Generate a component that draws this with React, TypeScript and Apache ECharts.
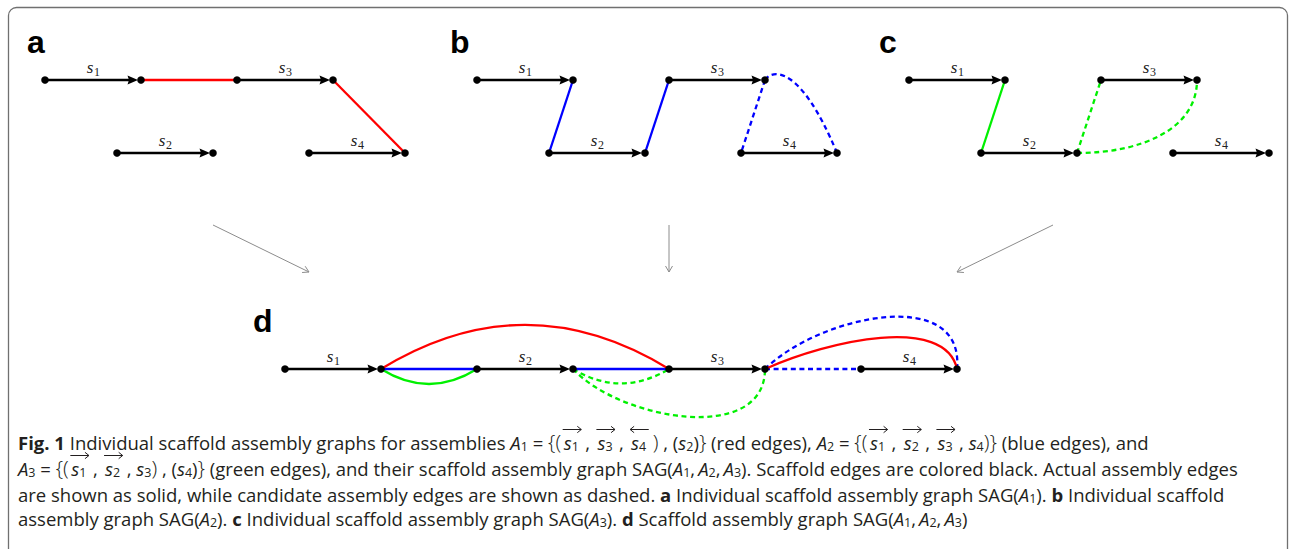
import React, { useEffect, useRef } from "react";
import * as echarts from "echarts";

// ---------------- data ----------------
const scaffoldSubscripts = ["1", "2", "3", "4"];
const scaffoldLength = 4;
// individual graphs (a, b, c): start position (x units) and row (y units) of each scaffold
const individualStartX = [0, 3, 8, 11];
const individualRowY = [3, 0, 3, 0];
// combined graph (d)
const combinedStartX = [0, 8, 16, 24];
const combinedRowY = [0, 0, 0, 0];

const assemblyNames = ["A1", "A2", "A3"];
// edges: [assembly, from scaffold, from end (s = start, e = end), to scaffold, to end, candidate]
const edges: [number, number, string, number, string, boolean][] = [
  [0, 0, "e", 2, "s", false],
  [0, 2, "e", 3, "e", false],
  [1, 0, "e", 1, "s", false],
  [1, 1, "e", 2, "s", false],
  [1, 2, "e", 3, "s", true],
  [1, 2, "e", 3, "e", true],
  [2, 0, "e", 1, "s", false],
  [2, 1, "e", 2, "s", true],
  [2, 1, "e", 2, "e", true],
];
// bezier control points [c1x, c1y, c2x, c2y] (panel units) of edges drawn as curves, by edge index
const individualCurves: Record<number, number[]> = {
  5: [12.29, 3.45, 13.46, 3.66],
  8: [9.63, 0, 12, 0.95],
};
const combinedCurves: Record<number, number[]> = {
  0: [8, 2.45, 12, 2.45],
  1: [22.7, 1.21, 27.5, 2.25],
  5: [22.3, 2.25, 28.33, 3.5],
  6: [5.33, -0.83, 6.67, -0.83],
  7: [13.33, -0.8, 14.67, -0.8],
  8: [13.96, -2.12, 20, -3.17],
};

const captionLines = [
  "[b:Fig. 1] Individual scaffold assembly graphs for assemblies [i:A][_:1] = [B:{(][>:1], [>:3], [<:4][B:)] , ([m:s][_:2])[B:}] (red edges), [i:A][_:2] = [B:{(][>:1], [>:2], [>:3], [m:s][_:4][B:)}] (blue edges), and",
  "[i:A][_:3] = [B:{(][>:1], [>:2], [m:s][_:3][B:)] , ([m:s][_:4])[B:}] (green edges), and their scaffold assembly graph SAG([i:A][_:1],\u2009[i:A][_:2],\u2009[i:A][_:3]). Scaffold edges are colored black. Actual assembly edges",
  "are shown as solid, while candidate assembly edges are shown as dashed. [b:a] Individual scaffold assembly graph SAG([i:A][_:1]). [b:b] Individual scaffold",
  "assembly graph SAG([i:A][_:2]). [b:c] Individual scaffold assembly graph SAG([i:A][_:3]). [b:d] Scaffold assembly graph SAG([i:A][_:1],\u2009[i:A][_:2],\u2009[i:A][_:3])",
];

// ---------------- layout / style ----------------
const assemblyColors = ["#ff0000", "#0000ff", "#00f000"];
const panels = [
  { letter: "a", assembly: 0, left: 45, top: 80, width: 360, height: 73, xMax: 15, yMin: 0, yMax: 3, lx: 27, ly: 42 },
  { letter: "b", assembly: 1, left: 477, top: 80, width: 360, height: 73, xMax: 15, yMin: 0, yMax: 3, lx: 450, ly: 42 },
  { letter: "c", assembly: 2, left: 909, top: 80, width: 360, height: 73, xMax: 15, yMin: 0, yMax: 3, lx: 879, ly: 42 },
  { letter: "d", assembly: -1, left: 285, top: 321, width: 672, height: 96, xMax: 28, yMin: -2, yMax: 2, lx: 253, ly: 321 },
];
const links = [
  [213, 225, 309, 272],
  [669, 225, 669, 272],
  [1053, 225, 957, 272],
];
const CAP_SIZE = 18.5;
const CAP_FAMILY = "'Open Sans'";
const CAP_COLOR = "#231f20";
const capFonts: Record<string, string> = {
  r: `400 ${CAP_SIZE}px ${CAP_FAMILY}`,
  b: `700 ${CAP_SIZE}px ${CAP_FAMILY}`,
  i: `italic 400 ${CAP_SIZE}px ${CAP_FAMILY}`,
  m: `italic 400 ${CAP_SIZE}px ${CAP_FAMILY}`,
  _: `400 12.5px ${CAP_FAMILY}`,
  B: `300 21px ${CAP_FAMILY}`,
};
const capDy: Record<string, number> = { r: 0, b: 0, i: 0, m: 0, _: 4.3, B: -0.5 };
const captionLineY = [442, 468, 494, 518];

function renderEdge(params: any, api: any) {
  const a = api.coord([api.value(0), api.value(1)]);
  const b = api.coord([api.value(2), api.value(3)]);
  const style: any = {
    stroke: assemblyColors[api.value(9)],
    lineWidth: 2.3,
    fill: "none",
    lineDash: api.value(10) ? [5, 3.6] : null,
  };
  if (api.value(4)) {
    const c1 = api.coord([api.value(5), api.value(6)]);
    const c2 = api.coord([api.value(7), api.value(8)]);
    return {
      type: "bezierCurve",
      shape: { x1: a[0], y1: a[1], x2: b[0], y2: b[1], cpx1: c1[0], cpy1: c1[1], cpx2: c2[0], cpy2: c2[1] },
      style,
    };
  }
  return { type: "line", shape: { x1: a[0], y1: a[1], x2: b[0], y2: b[1] }, style };
}

function renderScaffold(params: any, api: any) {
  const a = api.coord([api.value(0), api.value(1)]);
  const b = api.coord([api.value(2), api.value(3)]);
  const sub = scaffoldSubscripts[api.value(4)];
  const y = a[1];
  const tip = b[0] - 3;
  const base = b[0] - 13.5;
  const mid = (a[0] + b[0]) / 2;
  return {
    type: "group",
    children: [
      { type: "line", shape: { x1: a[0], y1: y, x2: base + 2, y2: y }, style: { stroke: "#000", lineWidth: 2.3 } },
      {
        type: "polygon",
        shape: { points: [[tip, y], [base, y - 4.6], [base + 1.5, y], [base, y + 4.6]] },
        style: { fill: "#000" },
      },
      { type: "circle", shape: { cx: a[0], cy: y, r: 3.8 }, style: { fill: "#000" } },
      { type: "circle", shape: { cx: b[0], cy: y, r: 3.8 }, style: { fill: "#000" } },
      {
        type: "text",
        x: mid - 3,
        y: y - 12.7,
        style: { text: "s", font: "italic 400 17px 'Liberation Serif'", fill: "#222", align: "center", verticalAlign: "middle" },
      },
      {
        type: "text",
        x: mid + 4,
        y: y - 8,
        style: { text: sub, font: "400 12px 'Liberation Serif'", fill: "#222", align: "center", verticalAlign: "middle" },
      },
    ],
  };
}

function buildCaption(): any[] {
  const ctx = document.createElement("canvas").getContext("2d") as CanvasRenderingContext2D;
  const measure = (t: string, f: string) => {
    ctx.font = f;
    return ctx.measureText(t).width;
  };
  const els: any[] = [];
  const text = (x: number, y: number, t: string, font: string) =>
    els.push({
      type: "text",
      x,
      y,
      silent: true,
      style: { text: t, font, fill: CAP_COLOR, align: "left", verticalAlign: "middle" },
    });
  captionLines.forEach((line, li) => {
    let x = 18;
    const y = captionLineY[li];
    const re = /\[([a-zA-Z_<>]):([^\]]*)\]/g;
    let last = 0;
    let m: RegExpExecArray | null;
    const plain = (t: string) => {
      if (!t) return;
      text(x, y, t, capFonts.r);
      x += measure(t, capFonts.r);
    };
    while ((m = re.exec(line))) {
      plain(line.slice(last, m.index));
      last = re.lastIndex;
      const k = m[1];
      const t = m[2];
      if (k === ">" || k === "<") {
        x += 2.5;
        const x0 = x;
        text(x, y, "s", capFonts.m);
        x += measure("s", capFonts.m);
        text(x, y + capDy._, t, capFonts._);
        x += measure(t, capFonts._);
        // vector arrow above the symbol
        const ax0 = x0 - 1;
        const ax1 = x + 2.5;
        const ay = y - 12.5;
        const head = k === ">" ? ax1 : ax0;
        const dir = k === ">" ? -1 : 1;
        els.push({
          type: "line",
          silent: true,
          shape: { x1: ax0, y1: ay, x2: ax1, y2: ay },
          style: { stroke: CAP_COLOR, lineWidth: 1 },
        });
        els.push({
          type: "polyline",
          silent: true,
          shape: { points: [[head + dir * 4, ay - 3.2], [head, ay], [head + dir * 4, ay + 3.2]] },
          style: { stroke: CAP_COLOR, lineWidth: 1, fill: "none" },
        });
        x += 6.5;
      } else {
        text(x, y + (capDy[k] || 0), t, capFonts[k]);
        x += measure(t, capFonts[k]);
      }
    }
    plain(line.slice(last));
  });
  return els;
}

export default function App() {
  const ref = useRef<HTMLDivElement>(null);
  useEffect(() => {
    if (!ref.current) return;
    const chart = echarts.init(ref.current, undefined, { renderer: "svg" });
    const series: any[] = [];
    panels.forEach((p, pi) => {
      const comb = p.assembly < 0;
      const startX = comb ? combinedStartX : individualStartX;
      const rowY = comb ? combinedRowY : individualRowY;
      const curves = comb ? combinedCurves : individualCurves;
      const endPt = (s: number, e: string) => [startX[s] + (e === "e" ? scaffoldLength : 0), rowY[s]];
      const edgeData: number[][] = [];
      edges.forEach((ed, ei) => {
        if (!comb && ed[0] !== p.assembly) return;
        const a = endPt(ed[1], ed[2]);
        const b = endPt(ed[3], ed[4]);
        const c = curves[ei];
        edgeData.push([a[0], a[1], b[0], b[1], c ? 1 : 0, ...(c || [0, 0, 0, 0]), ed[0], ed[5] ? 1 : 0]);
      });
      if (comb) edgeData.sort((u, v) => v[9] - u[9]);
      const scafData = startX.map((sx, si) => [sx, rowY[si], sx + scaffoldLength, rowY[si], si]);
      series.push({
        type: "custom",
        name: comb ? "SAG(A1,A2,A3)" : `SAG(${assemblyNames[p.assembly]})`,
        coordinateSystem: "cartesian2d",
        xAxisIndex: pi,
        yAxisIndex: pi,
        data: edgeData,
        renderItem: renderEdge,
        silent: true,
        clip: false,
        z: 2,
      });
      series.push({
        type: "custom",
        coordinateSystem: "cartesian2d",
        xAxisIndex: pi,
        yAxisIndex: pi,
        data: scafData,
        renderItem: renderScaffold,
        silent: true,
        clip: false,
        z: 3,
      });
    });

    const graphic: any[] = [
      {
        type: "rect",
        shape: { x: 8.5, y: 7.5, width: 1279, height: 640, r: 8 },
        style: { fill: "none", stroke: "#707070", lineWidth: 1.3 },
        silent: true,
      },
    ];
    panels.forEach((p) =>
      graphic.push({
        type: "text",
        x: p.lx,
        y: p.ly,
        silent: true,
        style: { text: p.letter, font: "700 32px 'Liberation Sans'", fill: "#000", align: "left", verticalAlign: "middle" },
      })
    );
    links.forEach(([x1, y1, x2, y2]) => {
      const dx = x2 - x1;
      const dy = y2 - y1;
      const L = Math.hypot(dx, dy);
      const ux = dx / L;
      const uy = dy / L;
      const hl = 6;
      const hw = 3.5;
      graphic.push({ type: "line", silent: true, shape: { x1, y1, x2, y2 }, style: { stroke: "#8c8c8c", lineWidth: 1 } });
      graphic.push({
        type: "polyline",
        silent: true,
        shape: {
          points: [
            [x2 - ux * hl - uy * hw, y2 - uy * hl + ux * hw],
            [x2, y2],
            [x2 - ux * hl + uy * hw, y2 - uy * hl - ux * hw],
          ],
        },
        style: { stroke: "#8c8c8c", lineWidth: 1, fill: "none" },
      });
    });
    graphic.push(...buildCaption());

    chart.setOption({
      animation: false,
      backgroundColor: "#ffffff",
      grid: panels.map((p) => ({ left: p.left, top: p.top, width: p.width, height: p.height, containLabel: false })),
      xAxis: panels.map((p, i) => ({ type: "value", gridIndex: i, min: 0, max: p.xMax, show: false })),
      yAxis: panels.map((p, i) => ({ type: "value", gridIndex: i, min: p.yMin, max: p.yMax, show: false })),
      series,
      graphic,
    });
    return () => chart.dispose();
  }, []);
  return <div ref={ref} style={{ position: "absolute", left: 0, top: 0, width: 1294, height: 549 }} />;
}
